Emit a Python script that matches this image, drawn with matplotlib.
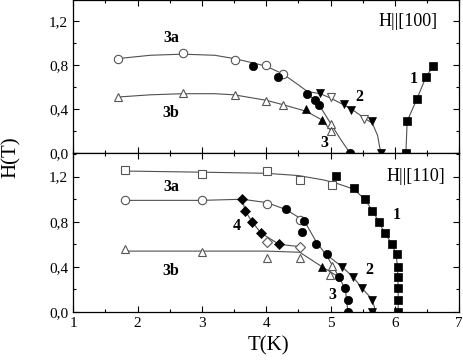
import numpy as np
import matplotlib
matplotlib.use("Agg")
import matplotlib.pyplot as plt
from matplotlib.ticker import MultipleLocator, FuncFormatter

plt.rcParams["font.family"] = ["Liberation Serif", "DejaVu Serif"]

# ── top panel, H || [100] ─────────────────────────────────────────────────────
t100_3a_open_T = [1.70, 2.70, 3.51, 4.00, 4.26]
t100_3a_open_H = [0.86, 0.91, 0.85, 0.80, 0.72]
t100_3a_fill_T = [3.80, 4.19, 4.64, 4.76, 4.82, 5.30]
t100_3a_fill_H = [0.79, 0.69, 0.54, 0.48, 0.44, 0.00]
t100_3b_open_T = [1.70, 2.70, 3.51, 4.00, 4.26, 5.00, 5.01]
t100_3b_open_H = [0.51, 0.55, 0.53, 0.47, 0.44, 0.26, 0.20]
t100_3b_fill_T = [4.62, 4.87]
t100_3b_fill_H = [0.40, 0.30]
t100_2_fill_T = [4.84, 5.21, 5.32, 5.65, 5.78]
t100_2_fill_H = [0.55, 0.45, 0.39, 0.29, 0.00]
t100_2_open_T = [5.00, 5.52]
t100_2_open_H = [0.51, 0.31]
t100_1_T = [6.17, 6.19, 6.34, 6.48, 6.59]
t100_1_H = [0.00, 0.29, 0.49, 0.69, 0.79]

# guide lines
c100_a_T = [1.70, 2.2, 2.7, 3.2, 3.5, 3.8, 4.0, 4.26, 4.5, 4.64, 4.84, 5.0, 5.2, 5.35, 5.52, 5.65, 5.73, 5.78]
c100_a_H = [0.86, 0.89, 0.90, 0.89, 0.86, 0.82, 0.79, 0.72, 0.62, 0.56, 0.54, 0.50, 0.44, 0.39, 0.32, 0.27, 0.16, 0.00]
c100_3_T = [4.64, 4.76, 4.82, 5.0, 5.15, 5.30]
c100_3_H = [0.54, 0.48, 0.44, 0.27, 0.13, 0.00]
c100_b_T = [1.70, 2.2, 2.7, 3.2, 3.5, 4.0, 4.26, 4.62, 4.87, 5.01]
c100_b_H = [0.51, 0.53, 0.54, 0.54, 0.53, 0.48, 0.44, 0.38, 0.30, 0.20]

# ── bottom panel, H || [110] ──────────────────────────────────────────────────
t110_sq_open_T = [1.81, 3.00, 4.01, 4.52, 5.02]
t110_sq_open_H = [1.26, 1.22, 1.25, 1.17, 1.13]
t110_sq_fill_T = [5.09, 5.36, 5.53, 5.65, 5.75, 5.84, 5.96, 6.03, 6.04, 6.04, 6.04, 6.04, 6.04]
t110_sq_fill_H = [1.21, 1.10, 1.00, 0.90, 0.80, 0.70, 0.60, 0.51, 0.40, 0.31, 0.21, 0.11, 0.00]
t110_ci_open_T = [1.81, 3.00, 4.01, 4.52]
t110_ci_open_H = [0.99, 0.99, 0.96, 0.82]
t110_ci_fill_T = [4.30, 4.59, 4.55, 4.78, 4.94, 5.13, 5.23, 5.27, 5.27]
t110_ci_fill_H = [0.91, 0.81, 0.71, 0.60, 0.51, 0.31, 0.21, 0.11, 0.00]
t110_di_fill_T = [3.63, 3.67, 3.78, 3.92, 4.20]
t110_di_fill_H = [1.00, 0.90, 0.80, 0.70, 0.60]
t110_di_open_T = [4.01, 4.52]
t110_di_open_H = [0.62, 0.58]
t110_tr_open_T = [1.81, 3.00, 4.01, 4.52, 4.99, 5.02]
t110_tr_open_H = [0.56, 0.53, 0.48, 0.48, 0.33, 0.41]
t110_tr_fill_T = [4.87]
t110_tr_fill_H = [0.40]
t110_dn_fill_T = [5.18, 5.35, 5.49, 5.65, 5.65]
t110_dn_fill_H = [0.40, 0.31, 0.21, 0.11, 0.00]

c110_1_T = [1.81, 3.0, 4.0, 4.5, 4.9, 5.1, 5.36, 5.53, 5.65, 5.75, 5.84, 5.96, 6.02, 6.04, 6.05, 6.05]
c110_1_H = [1.25, 1.24, 1.23, 1.21, 1.17, 1.14, 1.09, 1.00, 0.90, 0.80, 0.70, 0.60, 0.50, 0.40, 0.20, 0.00]
c110_3_T = [1.81, 3.0, 3.63, 4.01, 4.30, 4.59, 4.78, 4.94, 5.13, 5.23, 5.27]
c110_3_H = [0.99, 0.99, 1.00, 0.97, 0.91, 0.81, 0.62, 0.50, 0.31, 0.20, 0.00]
c110_4_T = [3.63, 3.67, 3.78, 3.92, 4.20, 4.52]
c110_4_H = [1.00, 0.90, 0.80, 0.70, 0.60, 0.58]
c110_b_T = [1.81, 3.0, 4.0, 4.52, 4.87, 5.13]
c110_b_H = [0.54, 0.54, 0.54, 0.53, 0.40, 0.31]
c110_2_T = [5.00, 5.18, 5.35, 5.49, 5.65, 5.70]
c110_2_H = [0.48, 0.40, 0.31, 0.21, 0.11, 0.00]

LINE = "#505050"
EDGE = "#555555"
MS = 6.0


def filled(ax, T, H, m, ms=MS, clip=True):
    ax.plot(T, H, ls="none", marker=m, ms=ms, mfc="black", mec="black",
            mew=0.5, clip_on=clip, zorder=4)


def hollow(ax, T, H, m, ms=MS, clip=True):
    ax.plot(T, H, ls="none", marker=m, ms=ms, mfc="white", mec=EDGE,
            mew=0.8, clip_on=clip, zorder=3)


def guide(ax, T, H):
    ax.plot(T, H, color=LINE, lw=0.8, zorder=2)


def style_axis(ax, top_lim):
    ax.set_xlim(1, 7)
    ax.set_ylim(0, top_lim)
    ax.xaxis.set_major_locator(MultipleLocator(1))
    ax.xaxis.set_minor_locator(MultipleLocator(0.5))
    ax.yaxis.set_major_locator(MultipleLocator(0.4))
    ax.yaxis.set_minor_locator(MultipleLocator(0.2))
    ax.yaxis.set_major_formatter(FuncFormatter(lambda v, p: f"{v:.1f}".replace(".", ",")))
    ax.tick_params(which="both", direction="in", top=True, right=True,
                   labelsize=11, width=0.8)
    ax.tick_params(which="major", length=4)
    ax.tick_params(which="minor", length=2.5)
    for s in ax.spines.values():
        s.set_linewidth(0.9)


fig = plt.figure(figsize=(4.63, 3.63), dpi=100)
ax1 = fig.add_axes([0.158, 0.5785, 0.834, 0.4205])
ax2 = fig.add_axes([0.158, 0.1405, 0.834, 0.438])

# top panel
guide(ax1, c100_a_T, c100_a_H)
guide(ax1, c100_3_T, c100_3_H)
guide(ax1, c100_b_T, c100_b_H)
guide(ax1, t100_1_T, t100_1_H)
hollow(ax1, t100_3a_open_T, t100_3a_open_H, "o", clip=False)
filled(ax1, t100_3a_fill_T, t100_3a_fill_H, "o", clip=False)
hollow(ax1, t100_3b_open_T, t100_3b_open_H, "^", clip=False)
filled(ax1, t100_3b_fill_T, t100_3b_fill_H, "^", clip=False)
hollow(ax1, t100_2_open_T, t100_2_open_H, "v", clip=False)
filled(ax1, t100_2_fill_T, t100_2_fill_H, "v", clip=False)
filled(ax1, t100_1_T, t100_1_H, "s", ms=5.5, clip=False)
style_axis(ax1, 1.39)
ax1.tick_params(labelbottom=False)

bold = dict(fontsize=11.5, fontweight="bold", ha="center", va="center")
ax1.text(2.52, 1.05, "3a", **bold)
ax1.text(2.51, 0.36, "3b", **bold)
ax1.text(5.44, 0.51, "2", **bold)
ax1.text(6.29, 0.67, "1", **bold)
ax1.text(4.91, 0.09, "3", **bold)
ax1.text(6.21, 1.20, "H||[100]", fontsize=13, ha="center", va="center")

# bottom panel
guide(ax2, c110_1_T, c110_1_H)
guide(ax2, c110_3_T, c110_3_H)
guide(ax2, c110_4_T, c110_4_H)
guide(ax2, c110_b_T, c110_b_H)
guide(ax2, c110_2_T, c110_2_H)
hollow(ax2, t110_sq_open_T, t110_sq_open_H, "s", ms=5.5)
filled(ax2, t110_sq_fill_T, t110_sq_fill_H, "s", ms=5.5)
hollow(ax2, t110_ci_open_T, t110_ci_open_H, "o")
filled(ax2, t110_ci_fill_T, t110_ci_fill_H, "o")
hollow(ax2, t110_di_open_T, t110_di_open_H, "D", ms=4.8)
filled(ax2, t110_di_fill_T, t110_di_fill_H, "D", ms=4.8)
hollow(ax2, t110_tr_open_T, t110_tr_open_H, "^")
filled(ax2, t110_tr_fill_T, t110_tr_fill_H, "^")
filled(ax2, t110_dn_fill_T, t110_dn_fill_H, "v")
style_axis(ax2, 1.41)

ax2.text(2.52, 1.11, "3a", **bold)
ax2.text(2.51, 0.36, "3b", **bold)
ax2.text(3.54, 0.76, "4", **bold)
ax2.text(6.03, 0.86, "1", **bold)
ax2.text(5.60, 0.37, "2", **bold)
ax2.text(5.02, 0.15, "3", **bold)
ax2.text(6.32, 1.20, "H||[110]", fontsize=13, ha="center", va="center")

fig.text(0.579, 0.047, "T(K)", fontsize=15, ha="center", va="center")
fig.text(0.025, 0.567, "H(T)", fontsize=15, rotation=90, ha="center", va="center")

fig.savefig("out.png", dpi=100)
